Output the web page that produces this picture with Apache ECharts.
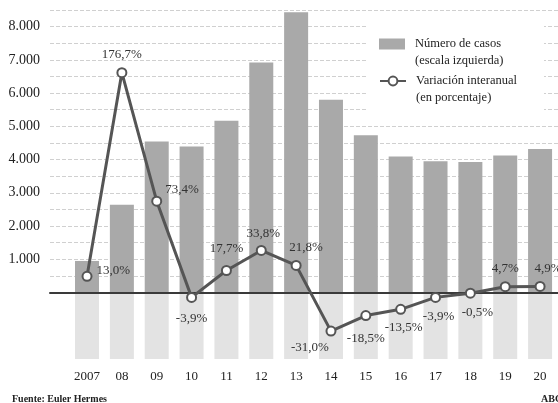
<!DOCTYPE html>
<html>
<head>
<meta charset="utf-8">
<script src="https://cdn.jsdelivr.net/npm/echarts@6/dist/echarts.min.js"></script>
<style>
html,body{margin:0;padding:0;background:#fff;}
#chart{width:558px;height:403px;}
</style>
</head>
<body>
<div id="chart"></div>
<script>
const years = ['2007','08','09','10','11','12','13','14','15','16','17','18','19','20'];
const casos = [950, 2640, 4540, 4390, 5170, 6920, 8430, 5800, 4730, 4090, 3950, 3930, 4120, 4320];
const variacion = [13.0, 176.7, 73.4, -3.9, 17.7, 33.8, 21.8, -31.0, -18.5, -13.5, -3.9, -0.5, 4.7, 4.9];
const fondoBajoCero = [-2000,-2000,-2000,-2000,-2000,-2000,-2000,-2000,-2000,-2000,-2000,-2000,-2000,-2000];
const yTickLabels = {1000:'1.000',2000:'2.000',3000:'3.000',4000:'4.000',5000:'5.000',6000:'6.000',7000:'7.000',8000:'8.000'};

// label placement per point: [position, distance, offsetX, offsetY]
const labelPlacement = [
  ['right',4,0,-6],['top',6,0,0],['right',3,0,-12],['bottom',9,0,0],
  ['top',10,0,0],['top',5,2,0],['top',6,10,0],['bottom',4,-21,0],
  ['bottom',11,0,0],['bottom',6,3,0],['bottom',7,3,0],['bottom',7,7,0],
  ['top',6,0,0],['top',6,8,0]
];

const FONT = 'Liberation Serif';
const chart = echarts.init(document.getElementById('chart'));

const lineData = variacion.map((v,i)=>({
  value: v,
  label: {
    show: true,
    position: labelPlacement[i][0],
    distance: labelPlacement[i][1],
    offset: [labelPlacement[i][2], labelPlacement[i][3]],
    formatter: (p)=> p.value.toFixed(1).replace('.', ',') + '%',
    fontFamily: FONT, fontSize: 13, color: '#333'
  }
}));

chart.setOption({
  animation: false,
  backgroundColor: '#fff',
  title: [
    {text: 'Fuente: Euler Hermes', left: 12, top: 394, padding: 0,
     textStyle: {fontFamily: FONT, fontSize: 10, fontWeight: 'bold', color: '#222'}},
    {text: 'ABC', left: 541, top: 394, padding: 0,
     textStyle: {fontFamily: FONT, fontSize: 10, fontWeight: 'bold', color: '#222'}}
  ],
  graphic: [
    {type: 'rect', left: 366, top: 18, shape: {width: 178, height: 99}, style: {fill: '#fff'}, z: 1, silent: true}
  ],
  legend: [
    {data: ['Número de casos'], left: 379, top: 18.5, padding: 0, orient: 'vertical',
     itemWidth: 26, itemHeight: 11, icon: 'rect',
     formatter: () => '\nNúmero de casos\n(escala izquierda)',
     textStyle: {fontFamily: FONT, fontSize: 12.5, color: '#222', lineHeight: 17, padding: [0,0,0,5]}},
    {data: ['Variación interanual'], left: 379, top: 55.5, padding: 0, orient: 'vertical',
     itemWidth: 26, itemHeight: 11,
     formatter: () => '\nVariación interanual\n(en porcentaje)',
     textStyle: {fontFamily: FONT, fontSize: 12.5, color: '#222', lineHeight: 17, padding: [0,0,0,5]}}
  ],
  grid: [
    {left: 50, right: 0, top: 10, height: 282.5},
    {left: 69.6, right: 0.5, top: 10, height: 349}
  ],
  xAxis: [
    {gridIndex: 0, type: 'value', min: 0, max: 1, z: 5,
     axisLine: {show: true, onZero: false, lineStyle: {color: '#3a3a3a', width: 2}},
     axisTick: {show: false}, axisLabel: {show: false}, splitLine: {show: false}},
    {gridIndex: 1, type: 'category', data: years,
     axisLine: {show: false}, axisTick: {show: false},
     axisLabel: {margin: 11, fontFamily: FONT, fontSize: 13, color: '#222'}}
  ],
  yAxis: [
    {gridIndex: 0, type: 'value', min: 0, max: 8500, interval: 500,
     axisLine: {show: false}, axisTick: {show: false},
     axisLabel: {margin: 10, fontFamily: FONT, fontSize: 14, color: '#222',
       formatter: (v) => yTickLabels[v] || ''},
     splitLine: {show: true, lineStyle: {color: '#d0d0d0', width: 1, type: [4, 2]}}},
    {gridIndex: 1, type: 'value', min: -2000, max: 8500, show: false, splitLine: {show: false}},
    {gridIndex: 1, type: 'value', min: -53.43, max: 227.1, show: false, splitLine: {show: false}}
  ],
  series: [
    {type: 'bar', name: 'fondo', xAxisIndex: 1, yAxisIndex: 1, data: fondoBajoCero,
     barWidth: 24, barGap: '-100%', itemStyle: {color: '#e3e3e3'}, silent: true, z: 2},
    {type: 'bar', name: 'Número de casos', xAxisIndex: 1, yAxisIndex: 1, data: casos,
     barWidth: 24, barGap: '-100%', itemStyle: {color: '#a9a9a9'}, z: 2},
    {type: 'line', name: 'Variación interanual', xAxisIndex: 1, yAxisIndex: 2, data: lineData,
     symbol: 'emptyCircle', symbolSize: 9, z: 6,
     lineStyle: {color: '#555', width: 3},
     itemStyle: {color: '#555', borderColor: '#555', borderWidth: 2}}
  ]
});
</script>
</body>
</html>
